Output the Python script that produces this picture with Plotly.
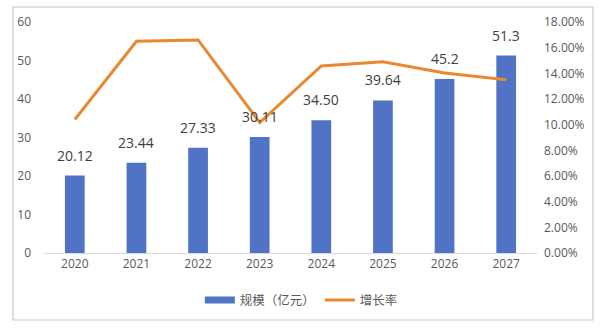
import plotly.graph_objects as go

years = ["2020", "2021", "2022", "2023", "2024", "2025", "2026", "2027"]
scale = [20.12, 23.44, 27.33, 30.11, 34.50, 39.64, 45.2, 51.3]
scale_labels = ["20.12", "23.44", "27.33", "30.11", "34.50", "39.64", "45.2", "51.3"]
growth = [0.1040, 0.1650, 0.1660, 0.1017, 0.1458, 0.1490, 0.1403, 0.1350]

font_family = "Open Sans, Noto Sans CJK SC, sans-serif"
tick_color = "#595959"
bar_color = "#5173C6"
line_color = "#E8892F"

fig = go.Figure()
fig.add_trace(go.Bar(
    x=years, y=scale, name="规模（亿元）", showlegend=False,
    marker=dict(color=bar_color, line=dict(width=0)),
    width=0.32,
))
# wide flat swatch for the bar series in the legend
fig.add_trace(go.Scatter(
    x=[years[0]], y=[None], name="规模（亿元）", mode="lines",
    line=dict(color=bar_color, width=7),
))
fig.add_trace(go.Scatter(
    x=years, y=growth, name="增长率", yaxis="y2",
    mode="lines", line=dict(color=line_color, width=3),
))

# value labels above each bar (category axis: position = category index)
for i, (v, lab) in enumerate(zip(scale, scale_labels)):
    fig.add_annotation(x=i, y=v, text=lab, showarrow=False, yanchor="bottom",
                       yshift=9, font=dict(size=14, color="#404040", family=font_family))

fig.update_layout(
    width=600, height=330,
    margin=dict(l=44, r=63, t=22, b=77),
    paper_bgcolor="white", plot_bgcolor="white",
    font=dict(family=font_family, size=12, color=tick_color),
    showlegend=True,
    legend=dict(orientation="h", x=0.522, xanchor="center", y=-0.14, yanchor="top",
                font=dict(size=12.5, color=tick_color), itemwidth=30),
    xaxis=dict(type="category", categoryorder="array", categoryarray=years,
               range=[-0.5, len(years) - 0.5],
               showgrid=False, showline=True, linecolor="#D9D9D9", linewidth=1,
               ticks="", tickfont=dict(size=12, color=tick_color)),
    yaxis=dict(range=[0, 60], dtick=10, showgrid=False, zeroline=False,
               showline=False, ticks="", tickfont=dict(size=12, color=tick_color),
               ticklabelstandoff=12),
    yaxis2=dict(range=[0, 0.18], dtick=0.02, tickformat=".2%", overlaying="y",
                side="right", showgrid=False, zeroline=False, showline=False,
                ticks="", tickfont=dict(size=12, color=tick_color),
                ticklabelstandoff=6),
    shapes=[dict(type="rect", xref="paper", yref="paper",
                 x0=-0.063, x1=1.1136, y0=-0.29, y1=1.065,
                 line=dict(color="#C8C8C8", width=1.2), layer="above")],
)

fig.write_html("out.html")
